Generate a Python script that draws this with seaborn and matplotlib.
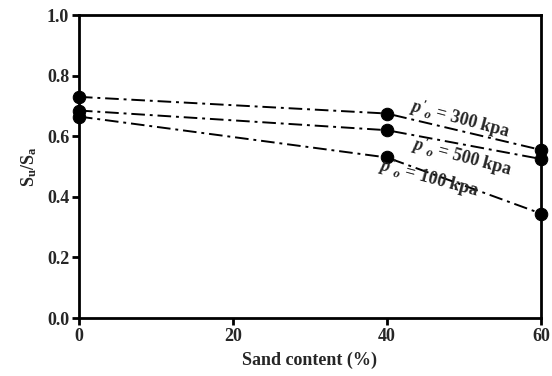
import matplotlib
matplotlib.use("Agg")
import matplotlib.pyplot as plt
import seaborn as sns
import pandas as pd

sand = [0, 40, 60]
su_100 = [0.665, 0.53, 0.345]
su_300 = [0.73, 0.675, 0.555]
su_500 = [0.685, 0.62, 0.525]
pressures = ["100 kpa", "300 kpa", "500 kpa"]
y_ticks = [0.0, 0.2, 0.4, 0.6, 0.8, 1.0]
x_ticks = [0, 20, 40, 60]

sns.set_theme(style="ticks")
plt.rcParams["font.family"] = ["Liberation Serif", "DejaVu Serif"]
plt.rcParams["mathtext.fontset"] = "custom"
plt.rcParams["mathtext.rm"] = "Liberation Serif:bold"
plt.rcParams["mathtext.it"] = "Liberation Serif:italic:bold"
plt.rcParams["mathtext.bf"] = "Liberation Serif:bold"

df = pd.DataFrame({
    "sand": sand * 3,
    "ratio": su_100 + su_300 + su_500,
    "p": [pressures[0]] * 3 + [pressures[1]] * 3 + [pressures[2]] * 3,
})

fig = plt.figure(figsize=(5.52, 3.76), dpi=100)
ax = fig.add_axes([0.143, 0.154, 0.837, 0.806])

sns.lineplot(data=df, x="sand", y="ratio", hue="p", palette=["black"] * 3,
             marker="o", markersize=9, markeredgecolor="black",
             linewidth=1.4, linestyle=(0, (7, 2.5, 1.5, 2.5)),
             legend=False, ax=ax, clip_on=False)

ax.set_xlim(0, 60)
ax.set_ylim(0, 1.0)
ax.set_xticks(x_ticks)
ax.set_yticks(y_ticks)
ax.set_yticklabels([f"{v:.1f}" for v in y_ticks])
for s in ax.spines.values():
    s.set_linewidth(2)
    s.set_color("black")
ax.tick_params(width=2, length=5, color="black", labelsize=13, pad=2)
for lab in ax.get_xticklabels() + ax.get_yticklabels():
    lab.set_fontweight("bold")

ax.set_xlabel("Sand content (%)", fontsize=13, fontweight="bold", labelpad=5)
ax.set_ylabel(r"S$_\mathrm{u}$/S$_\mathrm{a}$", fontsize=13, fontweight="bold", labelpad=6)

label_specs = [
    (pressures[1], 43.0, 0.70, -15),
    (pressures[2], 43.3, 0.575, -15),
    (pressures[0], 39.0, 0.505, -15),
]
for txt, xx, yy, rot in label_specs:
    ax.text(xx, yy, r"$p'_o$ = " + txt, fontsize=13, fontweight="bold",
            rotation=rot, rotation_mode="anchor", ha="left", va="center")

fig.savefig("out.png", dpi=100)
